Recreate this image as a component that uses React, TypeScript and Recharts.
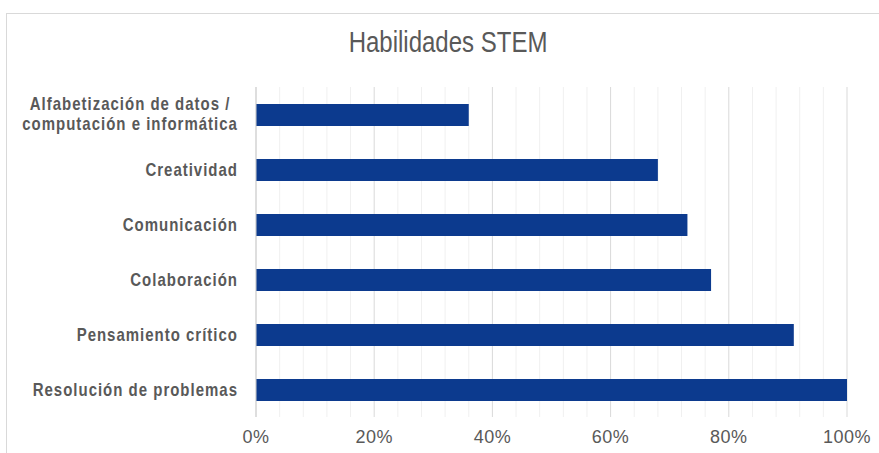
import React from "react"
import { Bar, BarChart, CartesianGrid, XAxis, YAxis } from "recharts"

const skills = [
  "Alfabetización de datos /\ncomputación e informática",
  "Creatividad",
  "Comunicación",
  "Colaboración",
  "Pensamiento crítico",
  "Resolución de problemas",
]
const shares = [36, 68, 73, 77, 91, 100]
const xTicks = [0, 4, 8, 12, 16, 20, 24, 28, 32, 36, 40, 44, 48, 52, 56, 60, 64, 68, 72, 76, 80, 84, 88, 92, 96, 100]
const labelTicks = [0, 20, 40, 60, 80, 100]

const data = skills.map((skill, i) => ({ skill, share: shares[i] }))

const gray = "#595959"
const font = "'Liberation Sans', Arial, sans-serif"

function measure(text: string, spec: string, spacing: number) {
  const ctx = document.createElement("canvas").getContext("2d")
  if (!ctx) return text.length * 8
  ctx.font = spec
  return ctx.measureText(text).width + spacing * text.length
}

function SkillTick({ x, y, payload }: any) {
  const lines = String(payload.value).split("\n")
  const right = x - 10
  const common = { fill: gray, fontFamily: font, fontSize: 15, fontWeight: "bold", letterSpacing: 1 }
  if (lines.length === 1) {
    return (
      <g transform={`translate(${right},${y}) scale(1,1.2)`}>
        <text x={0} y={0} dy={5} textAnchor="end" {...common}>{lines[0]}</text>
      </g>
    )
  }
  const widest = Math.max(...lines.map((l) => measure(l, `bold 15px ${font}`, 1)))
  const cx = right - widest / 2
  return (
    <g transform={`translate(${cx},${y}) scale(1,1.2)`}>
      <text x={0} y={0} textAnchor="middle" {...common}>
        {lines.map((l, i) => (
          <tspan key={i} x={0} dy={i === 0 ? -3.5 : 16.5}>{l}</tspan>
        ))}
      </text>
    </g>
  )
}

function PctTick({ x, y, payload }: any) {
  if (!labelTicks.includes(payload.value)) return null
  return (
    <text x={x} y={y} dy={18} textAnchor="middle" fill={gray} fontFamily={font} fontSize={18} letterSpacing={0.5}>
      {payload.value}%
    </text>
  )
}

function GridLine(props: any) {
  const major = props.index % 5 === 0
  return (
    <line key={props.key} x1={props.x1} y1={props.y1} x2={props.x2} y2={props.y2}
      stroke={major ? "#d9d9d9" : "#f0f0f0"} strokeWidth={1} />
  )
}

export default function App() {
  return (
    <div style={{ position: "absolute", left: 0, top: 0, width: 879, height: 453, overflow: "hidden", background: "#fff" }}>
      <div style={{ position: "absolute", left: 6, top: 13, width: 900, height: 500, border: "1px solid #d9d9d9" }} />
      <div style={{ position: "absolute", left: 0, top: 30, width: 896, textAlign: "center" }}>
        <span style={{
          display: "inline-block", fontFamily: font, fontSize: 24, color: gray,
          transform: "scaleY(1.25)", lineHeight: "24px",
        }}>
          Habilidades STEM
        </span>
      </div>
      <div style={{ position: "absolute", left: 0, top: 0 }}>
        <BarChart width={879} height={453} data={data} layout="vertical"
          margin={{ top: 87, right: 32, bottom: 6, left: 0 }}>
          <CartesianGrid horizontal={false} vertical={GridLine} />
          <XAxis type="number" domain={[0, 100]} ticks={xTicks} interval={0} height={30}
            axisLine={false} tickLine={false} tick={PctTick} />
          <YAxis type="category" dataKey="skill" width={256} axisLine={{ stroke: "#d0d0d0" }}
            tickLine={false} tick={SkillTick} interval={0} />
          <Bar dataKey="share" fill="#0c3a8e" barSize={22} isAnimationActive={false} />
        </BarChart>
      </div>
    </div>
  )
}
